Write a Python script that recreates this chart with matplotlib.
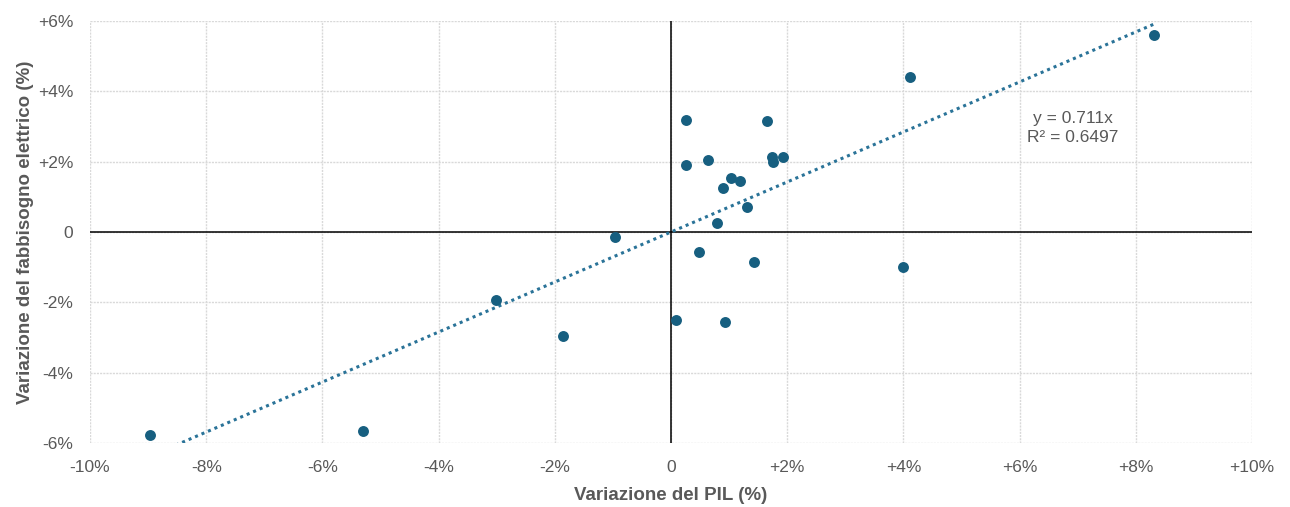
import numpy as np
import matplotlib
matplotlib.use("Agg")
import matplotlib.pyplot as plt
from matplotlib.ticker import FuncFormatter

# variazione annua PIL (%) e fabbisogno elettrico (%)
pil = [-8.97, -5.31, -3.02, -1.86, -0.96, 0.09, 0.26, 0.26, 0.48, 0.63,
       0.79, 0.89, 0.93, 1.04, 1.19, 1.31, 1.43, 1.66, 1.74, 1.76,
       1.92, 3.99, 4.11, 8.31]
fabb = [-5.78, -5.66, -1.94, -2.97, -0.15, -2.51, 3.19, 1.91, -0.58, 2.04,
        0.26, 1.25, -2.55, 1.54, 1.46, 0.71, -0.86, 3.15, 2.12, 1.99,
        2.12, -0.99, 4.40, 5.59]
slope = 0.711
r2 = 0.6497

x_ticks = [-10, -8, -6, -4, -2, 0, 2, 4, 6, 8, 10]
y_ticks = [-6, -4, -2, 0, 2, 4, 6]

plt.rcParams['font.family'] = ['Liberation Sans', 'DejaVu Sans']
plt.rcParams['axes.unicode_minus'] = False

txt = '#595959'
blu = '#175f80'

fig = plt.figure(figsize=(12.9, 5.07), dpi=100)
ax = fig.add_axes([0.0698, 0.1262, 0.9007, 0.8324])

def pct(v, pos):
  if v == 0:
    return '0'
  return '{0:+.0f}%'.format(v)

ax.set_xlim(-10, 10)
ax.set_ylim(-6, 6)
ax.set_xticks(x_ticks)
ax.set_yticks(y_ticks)
ax.xaxis.set_major_formatter(FuncFormatter(pct))
ax.yaxis.set_major_formatter(FuncFormatter(pct))
ax.tick_params(length=0, labelsize=12.5, labelcolor=txt)
ax.tick_params(axis='x', pad=12)
ax.tick_params(axis='y', pad=12)
for s in ax.spines.values():
  s.set_visible(False)
ax.grid(True, color='#d9d9d9', linestyle=(0, (1.5, 0.8)), linewidth=1.0)
ax.set_axisbelow(True)

ax.axhline(0, color='black', linewidth=1.1, zorder=2)
ax.axvline(0, color='black', linewidth=1.1, zorder=2)

# linea di tendenza (intercetta zero)
xt = np.array([min(pil), max(pil)])
ax.plot(xt, slope * xt, color='#2a7398', linestyle=(0, (1, 1.3)), linewidth=2.2, zorder=3)

ax.scatter(pil, fabb, s=62, color=blu, zorder=4, linewidths=0)

ax.text(6.92, 2.96, 'y = {0}x\nR² = {1}'.format(slope, r2), ha='center', va='center',
        fontsize=12.5, color=txt, linespacing=1.3)

ax.set_xlabel('Variazione del PIL (%)', fontsize=13.5, fontweight='bold', color=txt, labelpad=9)
ax.set_ylabel('Variazione del fabbisogno elettrico (%)', fontsize=13.5, fontweight='bold', color=txt, labelpad=3)

fig.savefig('out.png', dpi=100)
